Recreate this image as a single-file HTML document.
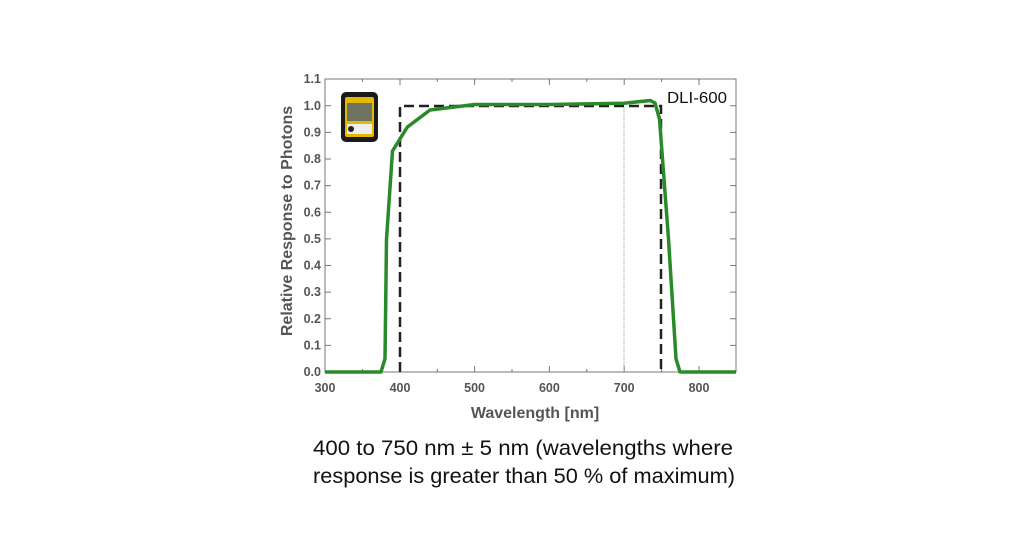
<!DOCTYPE html>
<html><head><style>
body{margin:0;background:#fff;width:1024px;height:555px;overflow:hidden;}
</style></head><body>
<svg width="1024" height="555" xmlns="http://www.w3.org/2000/svg" style="position:absolute;left:0;top:0">
<g font-family="Liberation Sans, sans-serif" font-weight="bold" fill="#555" font-size="12.5">
<rect x="325" y="79" width="411" height="293" fill="none" stroke="#777" stroke-width="1"/>
<g stroke="#777" stroke-width="1">
<path d="M325 372h6M325 345.4h6M325 318.8h6M325 292.1h6M325 265.5h6M325 238.9h6M325 212.3h6M325 185.6h6M325 159h6M325 132.4h6M325 105.8h6
M736 372h-6M736 345.4h-6M736 318.8h-6M736 292.1h-6M736 265.5h-6M736 238.9h-6M736 212.3h-6M736 185.6h-6M736 159h-6M736 132.4h-6M736 105.8h-6
M400 372v-6M474.6 372v-6M549.4 372v-6M624.2 372v-6M699 372v-6
M400 79v6M474.6 79v6M549.4 79v6M624.2 79v6M699 79v6
M362.4 372v-3M437.3 372v-3M512 372v-3M586.8 372v-3M661.6 372v-3M362.4 79v3M437.3 79v3M512 79v3M586.8 79v3M661.6 79v3"/>
</g>
<g text-anchor="end">
<text x="321" y="376">0.0</text><text x="321" y="349.4">0.1</text><text x="321" y="322.8">0.2</text><text x="321" y="296.1">0.3</text><text x="321" y="269.5">0.4</text><text x="321" y="242.9">0.5</text><text x="321" y="216.3">0.6</text><text x="321" y="189.6">0.7</text><text x="321" y="163">0.8</text><text x="321" y="136.4">0.9</text><text x="321" y="109.8">1.0</text><text x="321" y="83.2">1.1</text>
</g>
<g text-anchor="middle">
<text x="325" y="392">300</text><text x="400" y="392">400</text><text x="474.6" y="392">500</text><text x="549.4" y="392">600</text><text x="624.2" y="392">700</text><text x="699" y="392">800</text>
<text x="535" y="418" font-size="16">Wavelength [nm]</text>
<text transform="translate(292,221) rotate(-90)" font-size="16">Relative Response to Photons</text>
</g>
</g>
<line x1="624" y1="372" x2="624" y2="106" stroke="#999" stroke-width="1" stroke-dasharray="1,1"/>
<polyline fill="none" stroke="#222" stroke-width="2.5" stroke-dasharray="10,5" points="400,372 400,106 661,106 661,372"/>
<polyline fill="none" stroke="#2a8a2a" stroke-width="3.5" stroke-linejoin="round" points="325,372 381,372 385,358.7 386.5,239 392.5,151 407.4,127 430,110 474.6,104.5 549.4,104.5 624,103.2 650.3,100.5 655,103 659.5,119 668.5,239 676,358.7 680,372 736,372"/>
<text x="667" y="103" font-family="Liberation Sans, sans-serif" font-size="16" fill="#111" textLength="60" lengthAdjust="spacingAndGlyphs">DLI-600</text>
<g>
<rect x="341" y="92" width="37" height="50" rx="5" fill="#1a1a1a"/>
<rect x="345" y="97" width="29" height="40" rx="2" fill="#e6b800"/>
<rect x="347" y="103" width="25" height="18" fill="#6d7360"/>
<rect x="347" y="124" width="25" height="10" fill="#eee"/>
<circle cx="351" cy="129" r="3" fill="#222"/>
</g>
<g font-family="Liberation Sans, sans-serif" font-size="21" fill="#111">
<text x="313" y="455" textLength="420" lengthAdjust="spacingAndGlyphs">400 to 750 nm ± 5 nm (wavelengths where</text>
<text x="313" y="483" textLength="422" lengthAdjust="spacingAndGlyphs">response is greater than 50 % of maximum)</text>
</g>
</svg>
</body></html>
